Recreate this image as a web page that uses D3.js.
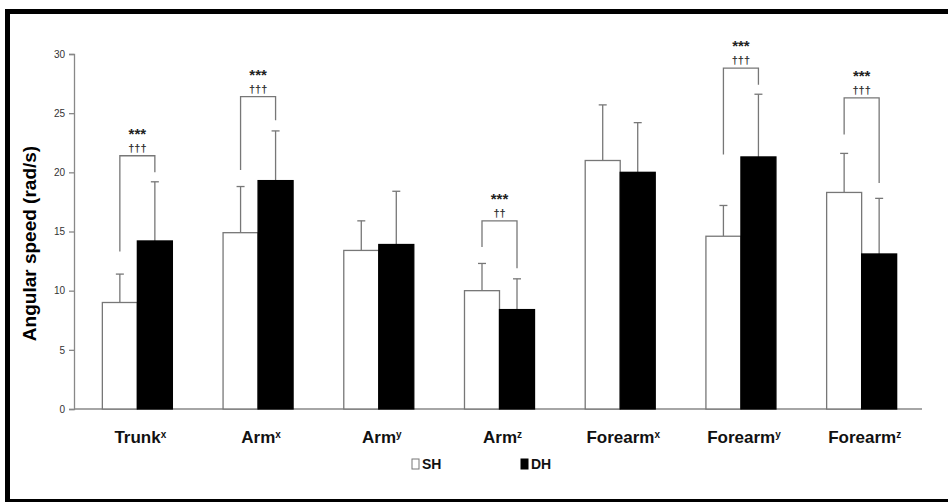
<!DOCTYPE html>
<html>
<head>
<meta charset="utf-8">
<script src="https://cdn.jsdelivr.net/npm/d3@7"></script>
<style>
  body { margin: 0; background: #fff; }
  svg { display: block; }
</style>
</head>
<body>
<div id="chart"></div>
<script>
// data
var categories = ["Trunk", "Arm", "Arm", "Arm", "Forearm", "Forearm", "Forearm"];
var axes = ["x", "x", "y", "z", "x", "y", "z"];
var shMean = [9.0, 14.9, 13.4, 10.0, 21.0, 14.6, 18.3];
var shSD = [2.4, 3.9, 2.5, 2.3, 4.7, 2.6, 3.3];
var dhMean = [14.2, 19.3, 13.9, 8.4, 20.0, 21.3, 13.1];
var dhSD = [5.0, 4.2, 4.5, 2.6, 4.2, 5.3, 4.7];
var yTicks = [0, 5, 10, 15, 20, 25, 30];
// significance brackets: group index, bracket top, left leg end, right leg end, stars, daggers
var sigGroup = [0, 1, 3, 5, 6];
var sigTop = [21.4, 26.4, 15.9, 28.8, 26.3];
var sigLeft = [13.3, 20.2, 13.7, 21.5, 23.2];
var sigRight = [20.0, 24.4, 11.9, 27.4, 19.1];
var sigStars = ["***", "***", "***", "***", "***"];
var sigDaggers = ["\u2020\u2020\u2020", "\u2020\u2020\u2020", "\u2020\u2020", "\u2020\u2020\u2020", "\u2020\u2020\u2020"];
var series = ["SH", "DH"];

var W = 948, H = 503;
var margin = { top: 54, right: 26, bottom: 94, left: 74 },
    width = W - margin.left - margin.right,
    height = H - margin.top - margin.bottom;

var root = d3.select("#chart").append("svg")
    .attr("width", W)
    .attr("height", H);

// outer frame
root.append("line").attr("x1", 5).attr("x2", W).attr("y1", 11.5).attr("y2", 11.5)
    .attr("stroke", "#000").attr("stroke-width", 5);
root.append("line").attr("x1", 7.5).attr("x2", 7.5).attr("y1", 9).attr("y2", 502)
    .attr("stroke", "#000").attr("stroke-width", 5);
root.append("line").attr("x1", 5).attr("x2", W).attr("y1", 500.5).attr("y2", 500.5)
    .attr("stroke", "#000").attr("stroke-width", 3);

var svg = root.append("g")
    .attr("transform", "translate(" + margin.left + "," + margin.top + ")");

var idx = d3.range(categories.length);

var x = d3.scaleBand()
    .domain(idx)
    .range([3, width])
    .paddingInner(0.42)
    .paddingOuter(0.21);

var xs = d3.scaleBand()
    .domain(series)
    .range([0, x.bandwidth()]);

var y = d3.scaleLinear()
    .domain([0, 30])
    .range([height, 0]);

// y axis
var yAxis = svg.append("g")
    .call(d3.axisLeft(y).tickValues(yTicks).tickSize(5).tickPadding(4));
yAxis.select(".domain").attr("stroke", "#888").attr("stroke-width", 1.3);
yAxis.selectAll(".tick line").attr("stroke", "#888").attr("stroke-width", 1.3);
yAxis.selectAll(".tick text")
    .style("font-family", "'Liberation Sans Narrow', 'Liberation Sans', Arial, sans-serif")
    .style("font-size", "10px")
    .attr("fill", "#333");

// x axis line
svg.append("line")
    .attr("x1", 0).attr("x2", width)
    .attr("y1", y(0)).attr("y2", y(0))
    .attr("stroke", "#888").attr("stroke-width", 1.3);

// y axis title
svg.append("text")
    .attr("transform", "translate(" + (-38) + "," + (height / 2 + 12) + ") rotate(-90)")
    .attr("text-anchor", "middle")
    .style("font-family", "'Liberation Sans', Arial, sans-serif")
    .style("font-weight", "bold")
    .style("font-size", "19px")
    .text("Angular speed (rad/s)");

// bars
var barData = [];
idx.forEach(function (i) {
    barData.push({ i: i, s: "SH", m: shMean[i], sd: shSD[i] });
    barData.push({ i: i, s: "DH", m: dhMean[i], sd: dhSD[i] });
});

// error bars (drawn first so bars cover the lower part)
var eb = svg.selectAll(".err")
    .data(barData)
    .enter()
    .append("g")
    .attr("class", "err");
eb.append("line")
    .attr("x1", function (d) { return x(d.i) + xs(d.s) + xs.bandwidth() / 2; })
    .attr("x2", function (d) { return x(d.i) + xs(d.s) + xs.bandwidth() / 2; })
    .attr("y1", function (d) { return y(d.m); })
    .attr("y2", function (d) { return y(d.m + d.sd); })
    .attr("stroke", "#777").attr("stroke-width", 1.3);
eb.append("line")
    .attr("x1", function (d) { return x(d.i) + xs(d.s) + xs.bandwidth() / 2 - 4; })
    .attr("x2", function (d) { return x(d.i) + xs(d.s) + xs.bandwidth() / 2 + 4; })
    .attr("y1", function (d) { return y(d.m + d.sd); })
    .attr("y2", function (d) { return y(d.m + d.sd); })
    .attr("stroke", "#777").attr("stroke-width", 1.3);

svg.selectAll(".bar")
    .data(barData)
    .enter()
    .append("rect")
    .attr("class", "bar")
    .attr("x", function (d) { return x(d.i) + xs(d.s); })
    .attr("y", function (d) { return y(d.m); })
    .attr("width", xs.bandwidth())
    .attr("height", function (d) { return y(0) - y(d.m); })
    .attr("fill", function (d) { return d.s === "SH" ? "#fff" : "#000"; })
    .attr("stroke", function (d) { return d.s === "SH" ? "#777" : "#000"; })
    .attr("stroke-width", 1.3);

// significance brackets
sigGroup.forEach(function (g, k) {
    var xl = x(g) + xs("SH") + xs.bandwidth() / 2,
        xr = x(g) + xs("DH") + xs.bandwidth() / 2,
        yt = y(sigTop[k]);
    svg.append("path")
        .attr("d", "M" + xl + "," + y(sigLeft[k]) + "V" + yt + "H" + xr + "V" + y(sigRight[k]))
        .attr("fill", "none")
        .attr("stroke", "#777")
        .attr("stroke-width", 1.3);
    var xc = (xl + xr) / 2;
    svg.append("text")
        .attr("x", xc)
        .attr("y", yt - 17)
        .attr("text-anchor", "middle")
        .style("font-family", "'Liberation Sans', Arial, sans-serif")
        .style("font-weight", "bold")
        .style("font-size", "15px")
        .attr("fill", "#222")
        .text(sigStars[k]);
    svg.append("text")
        .attr("x", xc)
        .attr("y", yt - 4)
        .attr("text-anchor", "middle")
        .style("font-family", "'Liberation Sans', Arial, sans-serif")
        .style("font-size", "11px")
        .style("font-weight", "bold")
        .attr("fill", "#333")
        .text(sigDaggers[k]);
});

// x labels with superscript axis
var xl = svg.selectAll(".xlab")
    .data(idx)
    .enter()
    .append("text")
    .attr("class", "xlab")
    .attr("x", function (i) { return x(i) + x.bandwidth() / 2 + 3; })
    .attr("y", height + 34)
    .attr("text-anchor", "middle")
    .style("font-family", "'Liberation Sans Narrow', 'Liberation Sans', Arial, sans-serif")
    .style("font-weight", "bold")
    .style("font-size", "17px")
    .attr("fill", "#111");
xl.append("tspan").text(function (i) { return categories[i]; });
xl.append("tspan")
    .attr("dy", -5)
    .style("font-size", "10px")
    .text(function (i) { return axes[i]; });

// legend
var legX = [412, 521];
var leg = root.selectAll(".leg")
    .data(series)
    .enter()
    .append("g")
    .attr("class", "leg")
    .attr("transform", function (d, i) { return "translate(" + legX[i] + ",459)"; });
leg.append("rect")
    .attr("width", 7).attr("height", 10)
    .attr("fill", function (d) { return d === "SH" ? "#fff" : "#000"; })
    .attr("stroke", function (d) { return d === "SH" ? "#777" : "#000"; })
    .attr("stroke-width", 1);
leg.append("text")
    .attr("x", 10)
    .attr("y", 10)
    .style("font-family", "'Liberation Sans Narrow', 'Liberation Sans', Arial, sans-serif")
    .style("font-weight", "bold")
    .style("font-size", "14px")
    .attr("fill", "#111")
    .text(function (d) { return d; });
</script>
</body>
</html>
